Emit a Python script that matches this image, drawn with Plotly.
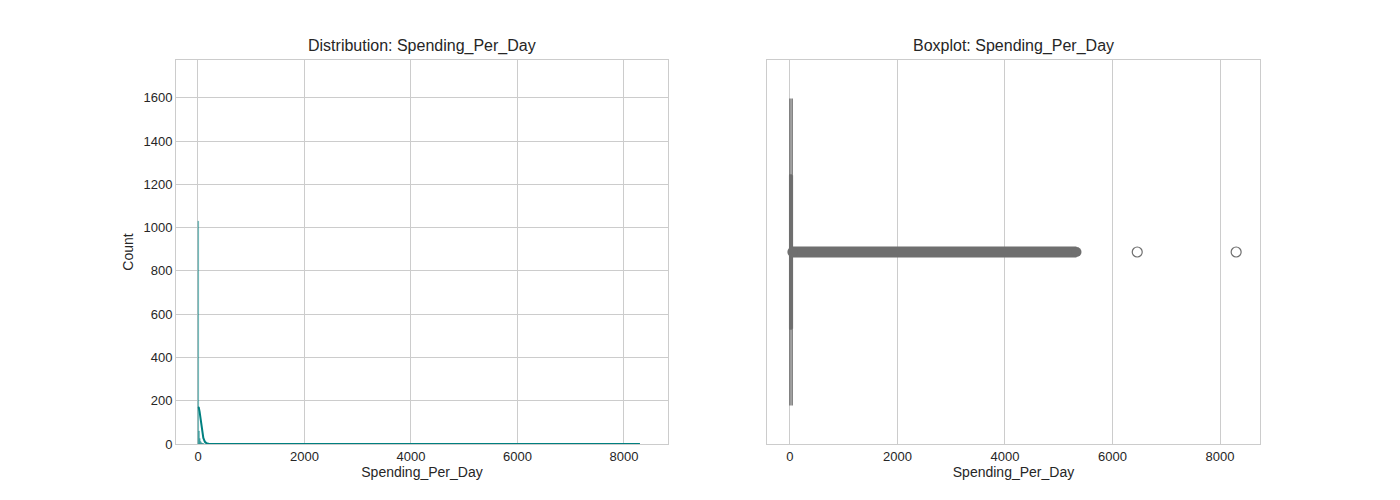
import plotly.graph_objects as go

# Histogram data (bin centers, counts)
hist_x = [5, 20, 35, 50, 65, 80, 95, 110]
hist_y = [1030, 60, 25, 12, 6, 3, 2, 1]
hist_width = 14
# KDE curve
kde_x = [0, 15, 30, 50, 75, 100, 130, 160, 200, 300, 1000, 3000, 6000, 8300]
kde_y = [170, 168, 150, 110, 60, 28, 10, 3, 1, 0.3, 0.1, 0.05, 0.02, 0.01]
# Boxplot stats
q1, median, q3 = 3, 8, 18
lower_fence, upper_fence = 0, 40
dense_outliers = [45, 5330]
far_outliers = [6460, 8300]

fig = go.Figure()
fig.add_trace(go.Bar(x=hist_x, y=hist_y, width=hist_width, marker=dict(color="rgba(0,128,128,0.5)", line=dict(width=0.5, color="rgba(0,128,128,0.6)")), xaxis="x", yaxis="y"))
fig.add_trace(go.Scatter(x=kde_x, y=kde_y, mode="lines", line=dict(color="#008080", width=2), xaxis="x", yaxis="y"))

fig.add_trace(go.Box(q1=[q1], median=[median], q3=[q3], lowerfence=[lower_fence], upperfence=[upper_fence], y=[0],
                     orientation="h", width=0.4, whiskerwidth=1, fillcolor="#6f6f6f", line=dict(color="#6f6f6f", width=2),
                     xaxis="x2", yaxis="y2", boxpoints=False))
for f in [lower_fence, upper_fence]:
    fig.add_trace(go.Scatter(x=[f, f], y=[-0.4, 0.4], mode="lines", line=dict(color="#6f6f6f", width=1.5), xaxis="x2", yaxis="y2"))
fig.add_trace(go.Scatter(x=dense_outliers, y=[0, 0], mode="lines", line=dict(color="#6f6f6f", width=11), xaxis="x2", yaxis="y2"))
fig.add_trace(go.Scatter(x=dense_outliers, y=[0, 0], mode="markers", marker=dict(size=10, color="#6f6f6f"), xaxis="x2", yaxis="y2"))
fig.add_trace(go.Scatter(x=far_outliers, y=[0, 0], mode="markers", marker=dict(size=10, color="rgba(0,0,0,0)", line=dict(color="#6f6f6f", width=1.2)), xaxis="x2", yaxis="y2"))

ax = dict(showline=True, linecolor="#cccccc", mirror=True, gridcolor="#cccccc", zeroline=False, ticks="",
          tickfont=dict(size=13, color="#262626"))
fig.update_layout(
    width=1400, height=500, showlegend=False, plot_bgcolor="white", paper_bgcolor="white",
    margin=dict(l=0, r=0, t=0, b=0, autoexpand=False), font=dict(family="Liberation Sans, Arial", color="#262626"),
    xaxis=dict(ax, domain=[0.12, 0.4714], range=[-413, 8826], tickvals=[0, 2000, 4000, 6000, 8000],
               title=dict(text="Spending_Per_Day", font=dict(size=14), standoff=4)),
    yaxis=dict(ax, domain=[0.128, 0.896], range=[0, 1775], tickvals=list(range(0, 1601, 200)),
               title=dict(text="Count", font=dict(size=14), standoff=6)),
    xaxis2=dict(ax, anchor="y2", domain=[0.5421, 0.8943], range=[-428, 8744], tickvals=[0, 2000, 4000, 6000, 8000],
                title=dict(text="Spending_Per_Day", font=dict(size=14), standoff=4)),
    yaxis2=dict(ax, anchor="x2", domain=[0.128, 0.896], range=[-0.5, 0.5], showgrid=False, showticklabels=False),
    annotations=[
        dict(text="Distribution: Spending_Per_Day", x=0.2957, y=0.902, xref="paper", yref="paper", xanchor="center", showarrow=False, yanchor="bottom", font=dict(size=16)),
        dict(text="Boxplot: Spending_Per_Day", x=0.718, y=0.902, xref="paper", yref="paper", xanchor="center", showarrow=False, yanchor="bottom", font=dict(size=16)),
    ],
)
fig.write_html("out.html")
